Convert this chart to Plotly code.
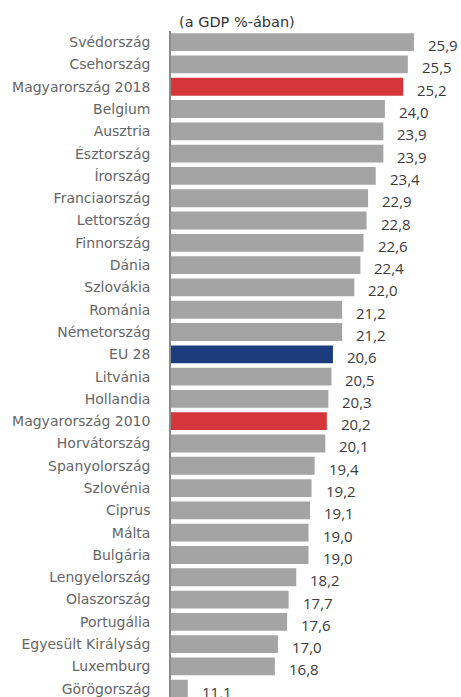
import plotly.graph_objects as go

countries = ["Svédország", "Csehország", "Magyarország 2018", "Belgium", "Ausztria",
             "Észtország", "Írország", "Franciaország", "Lettország", "Finnország",
             "Dánia", "Szlovákia", "Románia", "Németország", "EU 28", "Litvánia",
             "Hollandia", "Magyarország 2010", "Horvátország", "Spanyolország",
             "Szlovénia", "Ciprus", "Málta", "Bulgária", "Lengyelország",
             "Olaszország", "Portugália", "Egyesült Királyság", "Luxemburg", "Görögország"]
values = [25.9, 25.5, 25.2, 24.0, 23.9, 23.9, 23.4, 22.9, 22.8, 22.6,
          22.4, 22.0, 21.2, 21.2, 20.6, 20.5, 20.3, 20.2, 20.1, 19.4,
          19.2, 19.1, 19.0, 19.0, 18.2, 17.7, 17.6, 17.0, 16.8, 11.1]
subtitle = "(a GDP %-ában)"

GRAY = "#a4a4a4"
RED = "#d4363a"
BLUE = "#1d3c7e"
colors = []
for c in countries:
    if c.startswith("Magyarország"):
        colors.append(RED)
    elif c == "EU 28":
        colors.append(BLUE)
    else:
        colors.append(GRAY)

labels = [f"{v:.1f}".replace(".", ",") for v in values]

fig = go.Figure()
fig.add_trace(go.Bar(
    y=countries, x=values, orientation="h",
    marker=dict(color=colors, line=dict(width=0)),
    width=0.8,
    hoverinfo="skip",
))

for c, v, t in zip(countries, values, labels):
    fig.add_annotation(x=v, y=c, text=t, xanchor="left", yanchor="middle",
                       xshift=12, yshift=-3, showarrow=False,
                       font=dict(family="Open Sans", size=15, color="#3c3c3c"))

fig.add_annotation(x=6 / 275, xref="paper", xanchor="left",
                   y=1.0, yref="paper", yanchor="bottom", yshift=-1,
                   text=subtitle, showarrow=False,
                   font=dict(family="DejaVu Sans", size=14.5, color="#333333"))

fig.update_layout(
    width=461, height=697,
    margin=dict(l=171, r=15, t=31, b=0, pad=0),
    paper_bgcolor="white", plot_bgcolor="white",
    showlegend=False,
    xaxis=dict(range=[10, 28], visible=False, showgrid=False, zeroline=False,
               automargin=False),
    yaxis=dict(range=[29.37, -0.5], type="category", showgrid=False, zeroline=False,
               showline=True, linecolor="#8c8c8c", linewidth=1.5,
               ticks="", ticklabelstandoff=16, automargin=False,
               tickfont=dict(family="DejaVu Sans", size=14, color="#666666")),
)

fig.write_html("out.html", config={"displayModeBar": False},
               post_script="document.body.style.margin='0';")
